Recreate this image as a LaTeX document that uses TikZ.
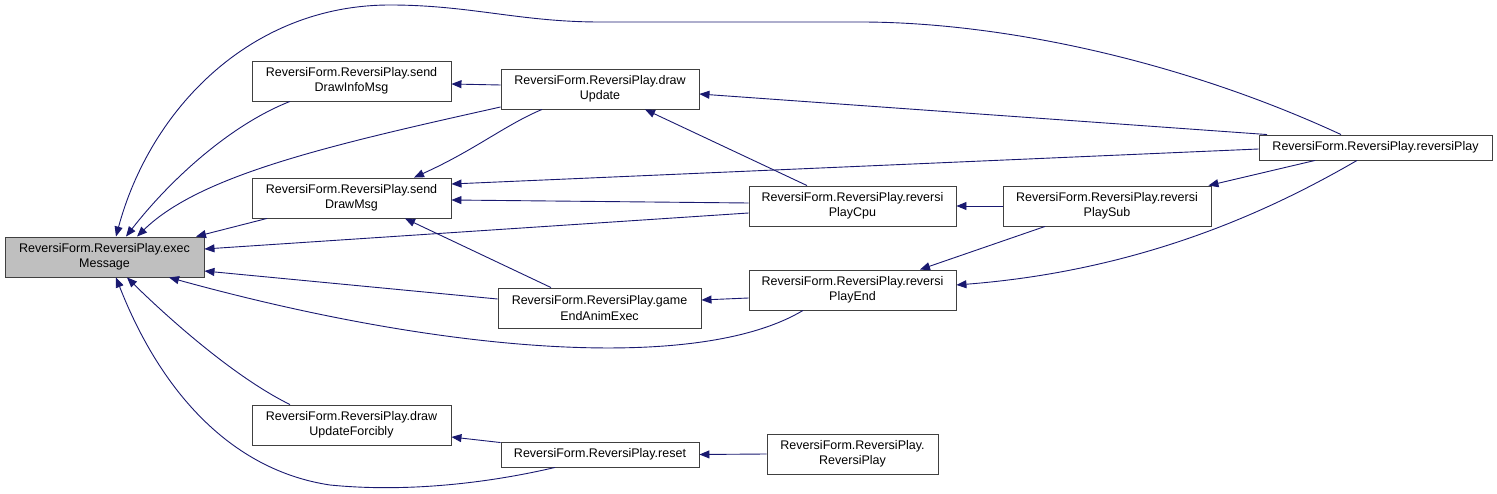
\documentclass[tikz,border=0pt]{standalone}
\usepackage{fontspec}
\setmainfont{Liberation Sans}
\usetikzlibrary{arrows.meta,calc}
\definecolor{edgeblue}{HTML}{191970}
\definecolor{boxline}{HTML}{404040}
\definecolor{execfill}{HTML}{BFBFBF}
\begin{document}
\begin{tikzpicture}[x=1pt,y=-1pt,
  fn/.style={draw=boxline, line width=0.9pt, fill=white, inner sep=0pt, align=center,
    font=\fontsize{12.5}{15.3}\selectfont},
  call/.style={draw=edgeblue, line width=0.9pt, -{Triangle[length=10pt,width=8pt]}}]
\useasboundingbox (0,0) rectangle (1497,494);
% nodes
\node[fn, fill=execfill, minimum width=199pt, minimum height=40pt] (exec) at (104.5,257) {ReversiForm.ReversiPlay.exec\\Message};
\node[fn, minimum width=199pt, minimum height=40pt] (infoMsg) at (351.5,81) {ReversiForm.ReversiPlay.send\\DrawInfoMsg};
\node[fn, minimum width=199pt, minimum height=40pt] (drawMsg) at (351.5,198) {ReversiForm.ReversiPlay.send\\DrawMsg};
\node[fn, minimum width=199pt, minimum height=40pt] (forcibly) at (351.5,425) {ReversiForm.ReversiPlay.draw\\UpdateForcibly};
\node[fn, minimum width=198pt, minimum height=40pt] (drawUpdate) at (600,89) {ReversiForm.ReversiPlay.draw\\Update};
\node[fn, minimum width=203pt, minimum height=40pt] (gameEnd) at (599.5,308) {ReversiForm.ReversiPlay.game\\EndAnimExec};
\node[fn, minimum width=198pt, minimum height=25pt] (reset) at (600,454.5) {ReversiForm.ReversiPlay.reset};
\node[fn, minimum width=207pt, minimum height=40pt] (cpu) at (852.5,206) {ReversiForm.ReversiPlay.reversi\\PlayCpu};
\node[fn, minimum width=207pt, minimum height=40pt] (end) at (852.5,290) {ReversiForm.ReversiPlay.reversi\\PlayEnd};
\node[fn, minimum width=171pt, minimum height=40pt] (ctor) at (852.5,454) {ReversiForm.ReversiPlay.\\ReversiPlay};
\node[fn, minimum width=208pt, minimum height=40pt] (sub) at (1107,206) {ReversiForm.ReversiPlay.reversi\\PlaySub};
\node[fn, minimum width=233pt, minimum height=25pt] (play) at (1375.5,147.5) {ReversiForm.ReversiPlay.reversiPlay};
% edges into execMessage
\draw[call] ($(play.north)+(-34.5,0)$) .. controls (1180,60) and (1000,22) .. (860,22)
  -- (600,22) .. controls (520,22) and (470,5) .. (390,5)
  .. controls (250,5) and (150,110) .. ($(exec.north)+(11.5,0)$);
\draw[call] ($(infoMsg.south)+(-61.5,0)$) .. controls (230,125) and (170,180) .. ($(exec.north)+(21.5,0)$);
\draw[call] ($(drawUpdate.west)+(0,18)$) .. controls (330,145) and (200,175) .. ($(exec.north)+(32.5,0)$);
\draw[call] ($(drawMsg.south)+(-84.5,0)$) -- ($(exec.north)+(91.5,0)$);
\draw[call] ($(cpu.west)+(0,7)$) -- ($(exec.east)+(0,-8)$);
\draw[call] ($(gameEnd.west)+(0,-9)$) -- ($(exec.east)+(0,14)$);
\draw[call] ($(end.south)+(-49.5,0)$) .. controls (700,372) and (450,355) .. ($(exec.south)+(64.5,0)$);
\draw[call] ($(forcibly.north)+(-61.5,0)$) .. controls (230,375) and (160,310) .. ($(exec.south)+(22.5,0)$);
\draw[call] ($(reset.south)+(-45,0)$) .. controls (480,485) and (400,492) .. (330,485)
  .. controls (230,470) and (160,390) .. ($(exec.south)+(11.5,0)$);
% other edges
\draw[call] ($(drawUpdate.west)+(0,-4)$) -- ($(infoMsg.east)+(0,3)$);
\draw[call] ($(drawUpdate.south)+(-58,0)$) .. controls (505,125) and (475,150) .. ($(drawMsg.north)+(62.5,0)$);
\draw[call] ($(play.west)+(0,1.5)$) -- ($(drawMsg.east)+(0,-14)$);
\draw[call] ($(cpu.west)+(0,-3)$) -- ($(drawMsg.east)+(0,2)$);
\draw[call] ($(gameEnd.north)+(-48.5,0)$) -- ($(drawMsg.south)+(53.5,0)$);
\draw[call] ($(play.north)+(-108.5,0)$) -- ($(drawUpdate.east)+(0,5)$);
\draw[call] ($(cpu.north)+(-45.5,0)$) -- ($(drawUpdate.south)+(45,0)$);
\draw[call] ($(play.south)+(-60.5,0)$) -- ($(sub.north east)+(-3,0)$);
\draw[call] ($(play.south)+(-18.5,0)$) .. controls (1280,205) and (1150,270) .. ($(end.east)+(0,-5)$);
\draw[call] ($(sub.south)+(-62,0)$) -- ($(end.north)+(67.5,0)$);
\draw[call] (sub.west) -- (cpu.east);
\draw[call] ($(end.west)+(0,8)$) -- ($(gameEnd.east)+(0,-8)$);
\draw[call] ($(reset.north west)+(0,1)$) -- ($(forcibly.east)+(0,12)$);
\draw[call] (ctor.west) -- (reset.east);
\end{tikzpicture}
\end{document}
